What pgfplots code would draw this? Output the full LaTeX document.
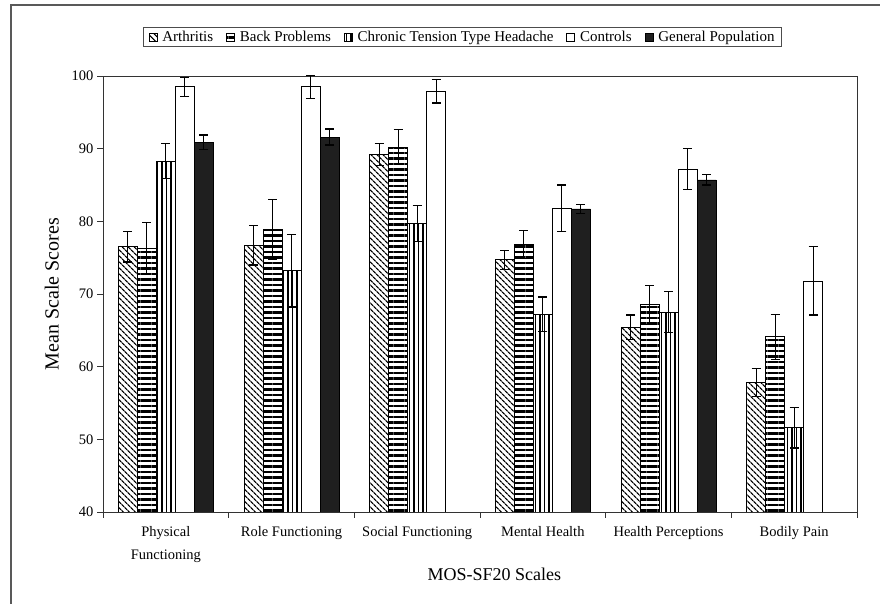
\documentclass[border=0pt]{standalone}
\usepackage{pgfplots}
\pgfplotsset{compat=1.18}
\usepackage{pgfplotstable}
\usepackage{fontspec}
\setmainfont{Liberation Serif}
\usetikzlibrary{patterns.meta}

\pgfplotstableread{
x y e
0 76.5 2.1
1 76.7 2.7
2 89.2 1.5
3 74.7 1.3
4 65.4 1.7
5 57.8 1.9
}\arth
\pgfplotstableread{
x y e
0 76.3 3.5
1 78.9 4.1
2 90.2 2.4
3 76.8 1.9
4 68.5 2.7
5 64.1 3.1
}\back
\pgfplotstableread{
x y e
0 88.3 2.4
1 73.2 5.0
2 79.7 2.5
3 67.2 2.4
4 67.5 2.8
5 51.6 2.8
}\ctth
\pgfplotstableread{
x y e
0 98.5 1.3
1 98.5 1.6
2 97.9 1.6
3 81.8 3.2
4 87.2 2.8
5 71.8 4.7
}\ctrl
\pgfplotstableread{
x y e
0 90.9 1.0
1 91.6 1.1
3 81.7 0.6
4 85.7 0.7
}\genp

\begin{document}
\begin{tikzpicture}[x=1pt,y=1pt]
\useasboundingbox (0,0) rectangle (880,604);
\draw[line width=2pt, color=black!65] (10.5,-5) -- (10.5,598.5) -- (890,598.5);
\begin{axis}[
  at={(103pt,92pt)}, anchor=south west,
  scale only axis, width=754pt, height=436pt,
  xmin=-0.5, xmax=5.5, ymin=40, ymax=100,
  ybar=0pt, bar width=19pt,
  axis line style={black!80, line width=0.9pt},
  xtick pos=bottom, ytick pos=left,
  xtick={0,1,2,3,4,5},
  xticklabels={Physical\\Functioning, Role Functioning, Social Functioning, Mental Health, Health Perceptions, Bodily Pain},
  xticklabel style={align=center, font=\fontsize{14.5}{23}\selectfont, yshift=-5pt},
  major x tick style={draw=none},
  minor xtick={-0.5,0.5,1.5,2.5,3.5,4.5,5.5},
  minor tick length=6pt,
  ytick={40,50,...,100},
  major tick length=6pt,
  tick align=outside,
  tick style={black!80, line width=0.9pt},
  yticklabel style={font=\fontsize{14.5}{16}\selectfont},
  /pgf/number format/assume math mode=true,
  ylabel={Mean Scale Scores},
  ylabel style={at={(axis description cs:-0.068,0.5)}, anchor=center, font=\fontsize{20}{22}\selectfont},
  xlabel={MOS-SF20 Scales},
  xlabel style={at={(axis description cs:0.519,-0.142)}, anchor=center, font=\fontsize{18}{20}\selectfont},
  legend columns=5,
  legend style={at={(0.477,1.112)}, anchor=north, draw=black!70, line width=0.8pt,
    font=\fontsize{15}{17}\selectfont, inner ysep=1.5pt, inner xsep=5pt,
    /tikz/every even column/.append style={column sep=11pt},
    /tikz/every odd column/.append style={column sep=3pt}},
  legend cell align=left,
  legend image code/.code={\draw[#1, line width=0.6pt] (0pt,-4pt) rectangle (8pt,4pt);},
  error bars/y dir=both, error bars/y explicit,
  error bars/error bar style={line width=1.3pt, black},
  error bars/error mark options={rotate=90, mark size=4.5pt, line width=1.3pt, black},
]
\addplot[draw=black, line width=0.8pt, pattern={Lines[angle=-45, distance=4pt, line width=1.3pt]}, pattern color=black]
  table[x=x, y=y, y error=e] {\arth};
\addlegendentry{Arthritis}
\addplot[draw=black, line width=0.8pt, pattern={Lines[angle=0, distance=5.5pt, line width=2.5pt]}, pattern color=black]
  table[x=x, y=y, y error=e] {\back};
\addlegendentry{Back Problems}
\addplot[draw=black, line width=0.8pt, pattern={Lines[angle=90, distance=4.5pt, line width=1.4pt]}, pattern color=black]
  table[x=x, y=y, y error=e] {\ctth};
\addlegendentry{Chronic Tension Type Headache}
\addplot[draw=black, line width=0.8pt, fill=white]
  table[x=x, y=y, y error=e] {\ctrl};
\addlegendentry{Controls}
\addplot[draw=black, line width=0.8pt, fill=black!88]
  table[x=x, y=y, y error=e] {\genp};
\addlegendentry{General Population}
\end{axis}
\end{tikzpicture}
\end{document}
